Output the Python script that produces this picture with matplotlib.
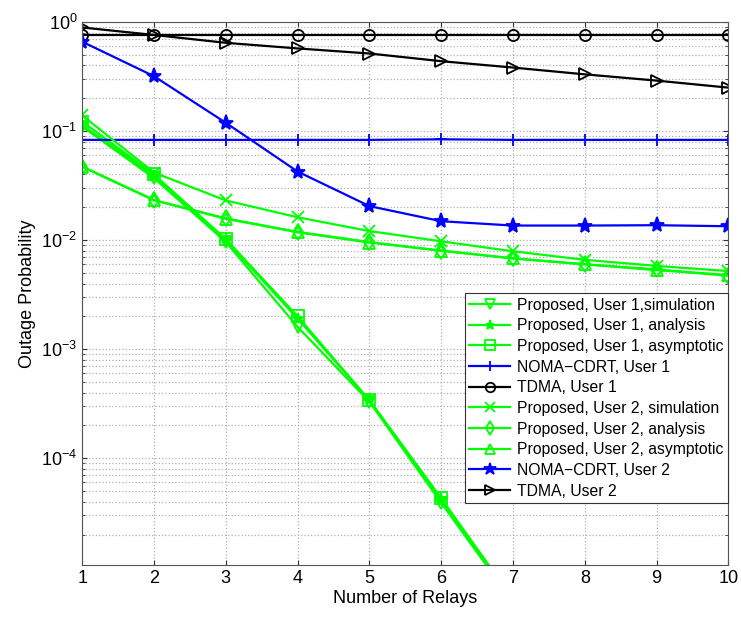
import numpy as np
import matplotlib
matplotlib.use('Agg')
import matplotlib.pyplot as plt

plt.rcParams['font.family'] = ['Liberation Sans', 'DejaVu Sans']

# data
relays = [1, 2, 3, 4, 5, 6, 7, 8, 9, 10]

u1_sim = [0.110, 0.037, 0.0096, 0.0016, 0.00033, 3.9e-5, 4.8e-6, 6e-7, 7e-8, 8e-9]
u1_ana = [0.113, 0.039, 0.0100, 0.0019, 0.00034, 4.2e-5, 5.0e-6, 6e-7, 7e-8, 8e-9]
u1_asy = [0.122, 0.040, 0.0102, 0.0020, 0.00034, 4.3e-5, 5.1e-6, 6e-7, 7e-8, 8e-9]
noma_u1 = [0.083, 0.083, 0.083, 0.083, 0.083, 0.084, 0.083, 0.083, 0.083, 0.083]
tdma_u1 = [0.76, 0.76, 0.76, 0.76, 0.76, 0.76, 0.76, 0.76, 0.76, 0.76]
u2_sim = [0.139, 0.0416, 0.0231, 0.0162, 0.0121, 0.00975, 0.0079, 0.0066, 0.0058, 0.0052]
u2_ana = [0.0473, 0.0233, 0.0158, 0.0119, 0.0096, 0.0080, 0.0068, 0.0060, 0.0054, 0.0047]
u2_asy = [0.0470, 0.0232, 0.0157, 0.0118, 0.0095, 0.0080, 0.0068, 0.0060, 0.0053, 0.0048]
noma_u2 = [0.659, 0.318, 0.119, 0.0425, 0.0205, 0.0149, 0.0136, 0.0136, 0.0137, 0.0134]
tdma_u2 = [0.89, 0.76, 0.644, 0.572, 0.514, 0.437, 0.382, 0.331, 0.29, 0.25]

series = [
    (u1_sim, 'Proposed, User 1,simulation', '#00ff00', 'v', False),
    (u1_ana, 'Proposed, User 1, analysis', '#00ff00', '*', True),
    (u1_asy, 'Proposed, User 1, asymptotic', '#00ff00', 's', False),
    (noma_u1, 'NOMA\u2212CDRT, User 1', '#0000ff', '+', True),
    (tdma_u1, 'TDMA, User 1', 'black', 'o', False),
    (u2_sim, 'Proposed, User 2, simulation', '#00ff00', 'x', True),
    (u2_ana, 'Proposed, User 2, analysis', '#00ff00', 'd', False),
    (u2_asy, 'Proposed, User 2, asymptotic', '#00ff00', '^', False),
    (noma_u2, 'NOMA\u2212CDRT, User 2', '#0000ff', '*', True),
    (tdma_u2, 'TDMA, User 2', 'black', '>', False),
]

fig = plt.figure(figsize=(7.41, 6.19), dpi=100)
ax = fig.add_axes([0.111, 0.0872, 0.872, 0.8773])

for vals, label, color, marker, filled in series:
    size = 11 if (marker == '*' and color == '#0000ff') else 8
    ax.semilogy(relays, vals, color=color, marker=marker, markersize=size,
                linewidth=1.6, markeredgewidth=1.3,
                markerfacecolor=color if filled else 'none',
                markeredgecolor=color, label=label)

ax.set_xlim(1, 10)
ax.set_ylim(1.05e-5, 1)
ax.set_xticks(relays)
ax.grid(True, which='major', linestyle=':', color='#b0b0b0', linewidth=0.9)
ax.grid(True, which='minor', axis='y', linestyle=':', color='#b0b0b0', linewidth=0.9)
ax.tick_params(which='both', direction='in', top=True, right=True,
               labelsize=13, colors='#333333', labelcolor='black')
for s in ax.spines.values():
    s.set_color('#555555')

ax.set_xlabel('Number of Relays', fontsize=13, labelpad=2)
ax.set_ylabel('Outage Probability', fontsize=13, labelpad=4)

leg = ax.legend(loc='upper right', bbox_to_anchor=(0.999, 0.501), fontsize=11.3,
                handlelength=2.6, handletextpad=0.4, borderpad=0.3,
                labelspacing=0.36, fancybox=False, framealpha=1,
                borderaxespad=0, markerscale=0.85)
leg.get_frame().set_edgecolor('#333333')
leg.get_frame().set_linewidth(0.8)

fig.savefig('out.png', dpi=100)
